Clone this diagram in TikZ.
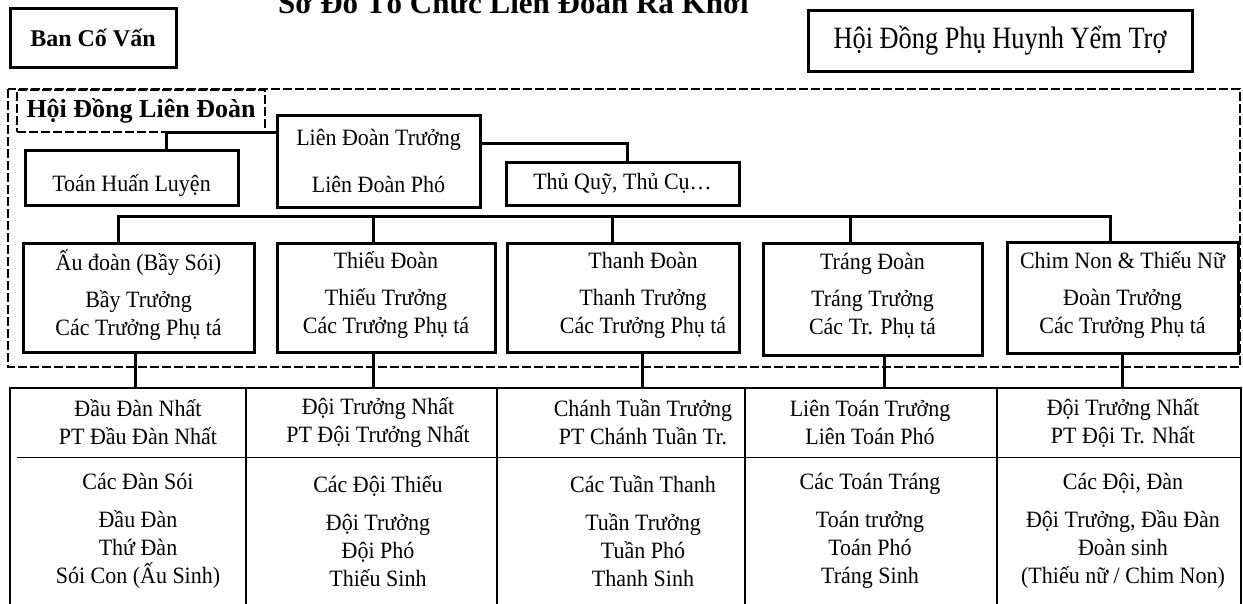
\documentclass[tikz,border=0pt]{standalone}
\usepackage{fontspec}
\setmainfont{Liberation Serif}
\newfontfamily\narrowfont[FakeStretch=0.94]{Liberation Serif}
\newfontfamily\phfont[FakeStretch=0.85]{Liberation Serif}
\begin{document}
\begin{tikzpicture}[x=1pt, y=-1pt,
  box/.style={draw=black, line width=3pt, inner sep=0pt, align=center, font=\narrowfont\fontsize{23.4}{28}\selectfont},
  unit/.style={box, minimum height=109pt},
  frame/.style={draw=black, line width=1.5pt, dash pattern=on 9pt off 3pt},
  conn/.style={line width=3pt},
  grid/.style={line width=2.5pt},
  cell/.style={inner sep=0pt, align=center, font=\narrowfont\fontsize{23.4}{28}\selectfont}]
\useasboundingbox (0,0) rectangle (1243,603);
\clip (0,0) rectangle (1243,603);
% title and the two side councils
\node [anchor=base west, inner sep=0pt, font=\fontsize{31}{36}\selectfont\bfseries] (title) at (278,13) {Sơ Đồ Tổ Chức Liên Đoàn Ra Khơi};
\node [box, minimum width=166pt, minimum height=59pt, font=\fontsize{24}{28}\selectfont\bfseries] (bancovan) at (93,37.5) {Ban Cố Vấn};
\node [box, minimum width=384pt, minimum height=61pt, font=\phfont\fontsize{31}{34}\selectfont] (phuhuynh) at (1000,40.5) {Hội Đồng Phụ Huynh Yểm Trợ};
% hoi dong lien doan
\draw [frame] (8,89) rectangle (1240,367);
\node [frame, minimum width=248pt, minimum height=42pt, inner sep=0pt, font=\fontsize{26}{30}\selectfont\bfseries] (hdld) at (141,111) {Hội Đồng Liên Đoàn};
\node [box, minimum width=203pt, minimum height=92pt] (ldt) at (378.5,161) {Liên Đoàn Trưởng\\[19pt]Liên Đoàn Phó};
\node [box, minimum width=213pt, minimum height=55pt, text height=28pt, text depth=0pt] (toan) at (131.5,177.5) {Toán Huấn Luyện};
\node [box, minimum width=233pt, minimum height=43pt] (thuquy) at (622.5,183.5) {Thủ Quỹ, Thủ Cụ…};
\draw [conn] ([yshift=29pt]ldt.west) -| ([xshift=35pt]toan.north);
\draw [conn] ([yshift=18pt]ldt.east) -| ([xshift=4.5pt]thuquy.north);
% nganh
\node [unit, minimum width=231pt] (au) at (138.5,297.5) {Ấu đoàn (Bầy Sói)\\[9pt]Bầy Trưởng\\Các Trưởng Phụ tá\\[-18pt]\mbox{}};
\node [unit, minimum width=218pt] (thieu) at (386,297.5) {Thiếu Đoàn\\[9pt]Thiếu Trưởng\\Các Trưởng Phụ tá\\[-18pt]\mbox{}};
\node [unit, minimum width=232pt, label={[cell, xshift=20pt, yshift=2pt]center:{Thanh Đoàn\\[9pt]Thanh Trưởng\\Các Trưởng Phụ tá}}] (thanh) at (623,297.5) {};
\node [unit, minimum width=219pt, minimum height=112pt] (trang) at (872.5,299) {Tráng Đoàn\\[9pt]Tráng Trưởng\\Các Tr. Phụ tá\\[-18pt]\mbox{}};
\node [unit, minimum width=231pt, minimum height=111pt] (chim) at (1122.5,297.5) {Chim Non \& Thiếu Nữ\\[9pt]Đoàn Trưởng\\Các Trưởng Phụ tá\\[-18pt]\mbox{}};
\draw [conn] ([xshift=-20pt]au.north) -- ++(0,-25) -| ([xshift=-12pt]chim.north);
\draw [conn] ([xshift=-13pt]thieu.north) -- ++(0,-25);
\draw [conn] ([xshift=-11pt]thanh.north) -- ++(0,-25);
\draw [conn] ([xshift=-22pt]trang.north) -- ++(0,-25);
% bang duoi
\coordinate (tabletop) at (0,388);
\draw [grid] (10,620) -- (10,388) -- (1241,388) -- (1241,620);
\draw [grid] (246,388) -- (246,620);
\draw [grid] (497,388) -- (497,620);
\draw [grid] (745,388) -- (745,620);
\draw [grid] (997,388) -- (997,620);
\draw [line width=1pt] (17,457) -- (1241,457);
\draw [conn] ([xshift=-3pt]au.south) -- ([xshift=-3pt]au.south |- tabletop);
\draw [conn] ([xshift=-13pt]thieu.south) -- ([xshift=-13pt]thieu.south |- tabletop);
\draw [conn] ([xshift=19pt]thanh.south) -- ([xshift=19pt]thanh.south |- tabletop);
\draw [conn] ([xshift=11.5pt]trang.south) -- ([xshift=11.5pt]trang.south |- tabletop);
\draw [conn] (chim.south) -- (chim.south |- tabletop);
\node [cell] (au1) at (138,422.5) {Đầu Đàn Nhất\\PT Đầu Đàn Nhất};
\node [cell] (au2) at (138,531) {Các Đàn Sói\\[10pt]Đầu Đàn\\Thứ Đàn\\Sói Con (Ấu Sinh)};
\node [cell] (thieu1) at (378,422.5) {Đội Trưởng Nhất\\PT Đội Trưởng Nhất};
\node [cell] (thieu2) at (378,531) {Các Đội Thiếu\\[10pt]Đội Trưởng\\Đội Phó\\Thiếu Sinh};
\node [cell] (thanh1) at (643,422.5) {Chánh Tuần Trưởng\\PT Chánh Tuần Tr.};
\node [cell] (thanh2) at (643,531) {Các Tuần Thanh\\[10pt]Tuần Trưởng\\Tuần Phó\\Thanh Sinh};
\node [cell] (trang1) at (870,422.5) {Liên Toán Trưởng\\Liên Toán Phó};
\node [cell] (trang2) at (870,531) {Các Toán Tráng\\[10pt]Toán trưởng\\Toán Phó\\Tráng Sinh};
\node [cell] (chim1) at (1123,422.5) {Đội Trưởng Nhất\\PT Đội Tr. Nhất};
\node [cell] (chim2) at (1123,531) {Các Đội, Đàn\\[10pt]Đội Trưởng, Đầu Đàn\\Đoàn sinh\\(Thiếu nữ / Chim Non)};
\end{tikzpicture}
\end{document}
